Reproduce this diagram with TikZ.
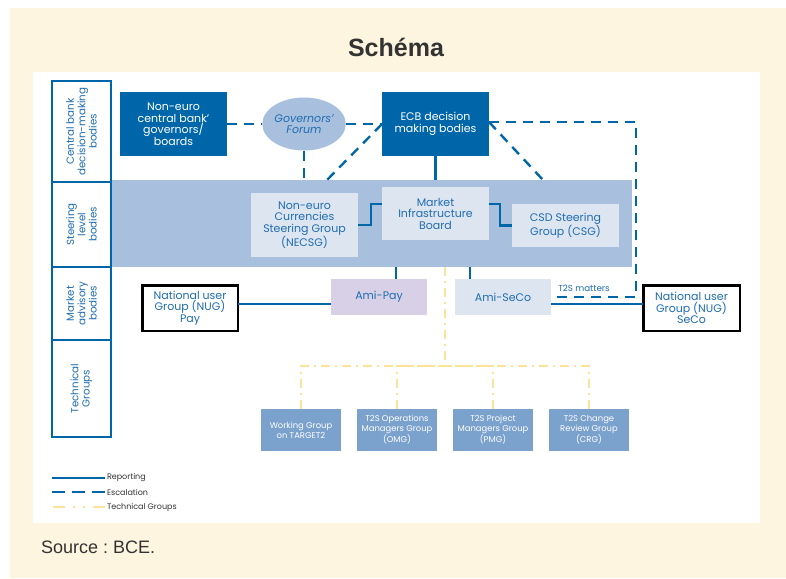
\documentclass[tikz,border=0pt]{standalone}
\usepackage{fontspec}
\setmainfont{Poppins}
\newfontfamily\titlefont{Liberation Sans}
\usetikzlibrary{shapes.geometric}
\definecolor{beige}{HTML}{FDF5DF}
\definecolor{dblue}{HTML}{0066AA}
\definecolor{band}{HTML}{A8C0DE}
\definecolor{lbox}{HTML}{DDE5F1}
\definecolor{lav}{HTML}{D8D0E6}
\definecolor{tbox}{HTML}{7BA1CD}
\definecolor{tyel}{HTML}{FFE29A}
\definecolor{tblue}{HTML}{1F6DB2}
\definecolor{dgray}{HTML}{333333}
\tikzset{
  every node/.style={inner sep=0pt, outer sep=0pt},
  dark/.style={fill=dblue, text=white, align=center, font=\fontsize{11}{11.5}\selectfont},
  light/.style={fill=lbox, text=tblue, align=center, font=\fontsize{11}{11.5}\selectfont},
  nug/.style={draw=black, line width=2.5pt, fill=white, text=tblue, align=center, font=\fontsize{11}{11.5}\selectfont},
  tg/.style={fill=tbox, text=white, align=center, minimum width=80pt, minimum height=42pt, font=\fontsize{8.4}{10}\selectfont},
  lab/.style={draw=dblue, line width=2pt, text=tblue, align=center, rotate=90, minimum height=59pt, font=\fontsize{10.3}{11.3}\selectfont},
  rep/.style={draw=dblue, line width=2.4pt},
  esc/.style={draw=dblue, line width=2.4pt, dash pattern=on 10pt off 7pt},
  tech/.style={draw=tyel, line width=2.2pt, dash pattern=on 9pt off 5pt on 2pt off 5pt},
  leg/.style={anchor=west, text=dgray, font=\fontsize{8}{9}\selectfont}
}
\begin{document}
\begin{tikzpicture}[x=1pt,y=-1pt]
\useasboundingbox (0,0) rectangle (786,578);
\fill[beige] (10,8) rectangle (786,578);
\fill[white] (33,72) rectangle (760,523);
\node[anchor=base, text=dgray, font=\titlefont\bfseries\fontsize{25}{28}\selectfont] (title) at (396,56.5) {Schéma};

% steering band
\node[fill=band, minimum width=521pt, minimum height=87pt] (band) at (371.5,223.5) {};

% left column labels
\node[lab, minimum width=101pt] (l1) at (81.5,131.5) {Central bank\\decision-making\\bodies};
\node[lab, minimum width=85pt] (l2) at (81.5,224.5) {Steering\\level\\bodies};
\node[lab, minimum width=73pt] (l3) at (81.5,303.5) {Market\\advisory\\bodies};
\node[lab, minimum width=97pt] (l4) at (81.5,388.5) {Technical\\Groups};

% top row
\node[dark, minimum width=107pt, minimum height=64pt] (ncb) at (173.5,124) {Non-euro\\central bank’\\governors/\\boards};
\node[ellipse, fill=band, text=tblue, align=center, minimum width=83pt, minimum height=53pt, font=\itshape\fontsize{11}{11.5}\selectfont] (gf) at (304,124) {Governors’\\Forum};
\node[dark, minimum width=107pt, minimum height=64pt] (ecb) at (435.5,124) {ECB decision\\making bodies};

% steering boxes
\node[light, minimum width=107pt, minimum height=64pt] (necsg) at (304.5,225) {Non-euro\\Currencies\\Steering Group\\(NECSG)};
\node[light, minimum width=107pt, minimum height=53pt] (mib) at (435.5,213.5) {Market\\Infrastructure\\Board};
\node[light, minimum width=107pt, minimum height=43pt] (csg) at (565.5,225.5) {CSD Steering\\Group (CSG)};

% market advisory
\node[fill=lav, text=tblue, minimum width=96pt, minimum height=36pt, font=\fontsize{11}{11.5}\selectfont] (amipay) at (379,297) {Ami-Pay};
\node[light, minimum width=96pt, minimum height=36pt] (amiseco) at (503,297) {Ami-SeCo};
\node[nug, minimum width=95.5pt, minimum height=45.5pt] (nugpay) at (190,308) {National user\\Group (NUG)\\Pay};
\node[nug, minimum width=96.5pt, minimum height=45.5pt] (nugseco) at (691.5,308) {National user\\Group (NUG)\\SeCo};

% technical groups
\node[tg] (tg1) at (301,430) {Working Group\\on TARGET2};
\node[tg] (tg2) at (397,430) {T2S Operations\\Managers Group\\(OMG)};
\node[tg] (tg3) at (493,430) {T2S Project\\Managers Group\\(PMG)};
\node[tg] (tg4) at (589,430) {T2S Change\\Review Group\\(CRG)};

% escalation connectors
\coordinate (d1) at (327,180);
\coordinate (d2) at (543,180);
\coordinate (escc) at (636,297);
\draw[esc] (ncb.east) -- (gf.west);
\draw[esc] (gf.east) -- (ecb.west);
\draw[esc] (gf.south) -- (gf.south |- band.north);
\draw[esc] (ecb.west) -- (d1);
\draw[esc] ([yshift=2pt]ecb.east) -- (d2);
\draw[esc] ([yshift=2pt]ecb.east) -| (escc) -- (amiseco.east);
\node[text=tblue, font=\fontsize{8.7}{9}\selectfont] (t2s) at (584,288) {T2S matters};

% reporting connectors
\draw[rep] (ecb.south) -- (ecb.south |- band.north);
\draw[rep] (necsg.east) -- ++(13,0) |- ([yshift=9.5pt]mib.west);
\draw[rep] ([yshift=9.5pt]mib.east) -- ++(11,0) |- (csg.west);
\draw[rep] ([xshift=17pt]amipay.north) -- ([xshift=17pt]amipay.north |- band.south);
\draw[rep] ([xshift=-33pt]amiseco.north) -- ([xshift=-33pt]amiseco.north |- band.south);
\draw[rep] ([yshift=4pt]nugpay.east) -- ([yshift=4pt]nugpay.east -| amipay.west);
\draw[rep] ([yshift=-7pt]amiseco.east) -- ([yshift=-7pt]amiseco.east -| nugseco.west);

% technical group connectors
\coordinate (tj) at (445,366);
\draw[tech] (band.south -| tj) -- (tj);
\draw[tech] (tg1.north) |- (tj);
\draw[tech] (tg2.north) |- (tj);
\draw[tech] (tg3.north) |- (tj);
\draw[tech] (tg4.north) |- (tj);

% legend
\node[leg] (lrep) at (107,478) {Reporting};
\node[leg] (lesc) at (107,492) {Escalation};
\node[leg] (ltec) at (107,507) {Technical Groups};
\draw[rep] (lrep.west) ++(-2,0) -- ++(-53,0);
\draw[esc, dash pattern=on 13pt off 7pt] (lesc.west) ++(-2,0) -- ++(-53,0);
\draw[tech, dash pattern=on 12pt off 8pt on 2pt off 8pt on 2pt off 8pt] (ltec.west) ++(-2,0) -- ++(-53,0);

% source
\node[anchor=base west, text=dgray, font=\titlefont\fontsize{18}{20}\selectfont] (src) at (41,553) {\frenchspacing Source : BCE.};
\end{tikzpicture}
\end{document}
